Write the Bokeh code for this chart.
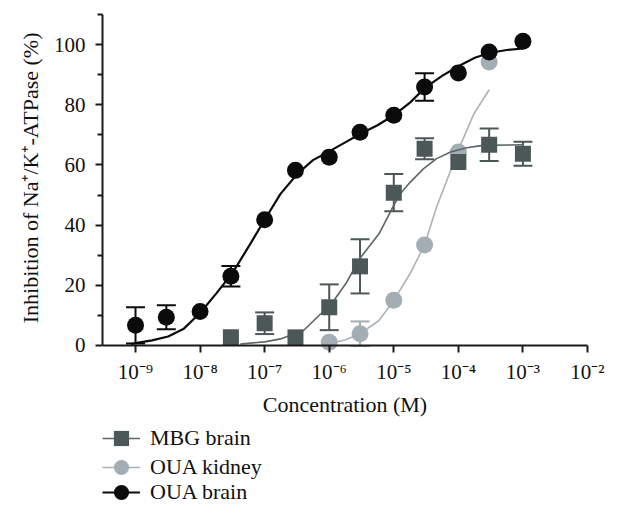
from bokeh.plotting import figure
from bokeh.models import (ColumnDataSource, Whisker, TeeHead, FixedTicker,
                          Legend, LegendItem, Title)
from bokeh.embed import file_html
from bokeh.resources import INLINE

# ---- measured points ----
brain_conc = [1e-9, 3e-9, 1e-8, 3e-8, 1e-7, 3e-7, 1e-6, 3e-6, 1e-5, 3e-5, 1e-4, 3e-4, 1e-3]
brain_val = [6.7, 9.4, 11.3, 23.0, 41.8, 58.2, 62.6, 70.9, 76.5, 85.9, 90.6, 97.5, 101.1]
brain_err_conc = [1e-9, 3e-9, 3e-8, 3e-5]
brain_err_val = [6.7, 9.4, 23.0, 85.9]
brain_err = [6.0, 4.0, 3.4, 4.6]

mbg_conc = [3e-8, 1e-7, 3e-7, 1e-6, 3e-6, 1e-5, 3e-5, 1e-4, 3e-4, 1e-3]
mbg_val = [2.7, 7.4, 2.7, 12.7, 26.3, 50.8, 65.4, 61.0, 66.7, 63.7]
mbg_err_conc = [1e-7, 1e-6, 3e-6, 1e-5, 3e-5, 3e-4, 1e-3]
mbg_err_val = [7.4, 12.7, 26.3, 50.8, 65.4, 66.7, 63.7]
mbg_err = [3.6, 7.6, 9.0, 6.2, 3.5, 5.4, 4.0]

kid_conc = [1e-6, 3e-6, 1e-5, 3e-5, 1e-4, 3e-4]
kid_val = [1.1, 3.9, 15.0, 33.4, 64.3, 94.2]
kid_err_conc = [3e-6]
kid_err_val = [3.9]
kid_err = [4.1]

# ---- fitted curves ----
brain_fit_conc = [8.5e-10, 1.0e-9, 1.8e-9, 3.2e-9, 5.6e-9, 1.0e-8, 1.8e-8, 3.2e-8,
                  5.7e-8, 1.0e-7, 1.76e-7, 3.2e-7, 5.6e-7, 1.0e-6, 1.8e-6, 3.0e-6,
                  5.6e-6, 1.0e-5, 1.8e-5, 3.0e-5, 5.6e-5, 1.0e-4, 1.8e-4,
                  3.0e-4, 5.6e-4, 1.0e-3]
brain_fit_val = [0.5, 0.8, 1.7, 3.0, 5.6, 10.8, 17.4, 24.2,
                 33.0, 41.8, 50.4, 57.0, 61.6, 64.5, 67.6, 70.3,
                 73.2, 76.5, 80.8, 85.5, 89.6, 92.8, 95.6,
                 97.2, 98.2, 98.7]

mbg_fit_conc = [4.2e-8, 1.0e-7, 1.76e-7, 4.0e-7, 7.2e-7, 1.0e-6, 1.8e-6, 3.0e-6,
                5.9e-6, 1.0e-5, 1.26e-5, 1.8e-5, 2.9e-5, 4.6e-5, 7.6e-5, 1.35e-4,
                2.4e-4, 1.0e-3]
mbg_fit_val = [0.5, 1.2, 2.2, 5.0, 10.3, 12.8, 20.5, 29.0,
               37.1, 46.6, 50.4, 54.3, 58.8, 62.1, 64.3, 65.7,
               66.5, 66.7]

kid_fit_conc = [1.0e-6, 1.8e-6, 3.0e-6, 5.9e-6, 1.0e-5, 1.8e-5, 3.0e-5, 4.6e-5,
                7.1e-5, 1.0e-4, 1.74e-4, 3.0e-4]
kid_fit_val = [0.6, 1.9, 3.9, 8.3, 15.0, 24.0, 33.5, 46.0,
               56.5, 65.0, 77.0, 85.0]

x_tick_values = [1e-9, 1e-8, 1e-7, 1e-6, 1e-5, 1e-4, 1e-3, 1e-2]
x_tick_labels = ["10⁻⁹", "10⁻⁸", "10⁻⁷", "10⁻⁶", "10⁻⁵", "10⁻⁴", "10⁻³", "10⁻²"]
x_axis_span = (3.08e-10, 1e-2)
y_tick_values = [0, 20, 40, 60, 80, 100]
y_minor_values = [10, 30, 50, 70, 90, 110]
y_axis_span = (0, 110)

x_title = "Concentration (M)"
y_title = "Inhibition of Na⁺/K⁺-ATPase (%)"
series_names = ["MBG brain", "OUA kidney", "OUA brain"]

FONT = "Liberation Serif"
C_BRAIN = "#0b0b0b"
C_MBG = "#4b5857"
C_MBG_LINE = "#5b6564"
C_KID = "#a2aeb4"
C_KID_LINE = "#a9b3b8"

# frame spans down/right so the legend and last tick label are not clipped
p = figure(width=612, height=512, x_axis_type="log",
           x_range=(3.08e-10, 2.44e-2), y_range=(-55.5, 110),
           output_backend="svg", toolbar_location=None,
           min_border_left=102, min_border_right=0,
           min_border_top=14, min_border_bottom=0)
p.xgrid.grid_line_color = None
p.ygrid.grid_line_color = None
p.outline_line_color = None

for ax in (p.xaxis[0], p.yaxis[0]):
    ax.axis_line_width = 2
    ax.axis_line_color = "#1a1a1a"
    ax.major_tick_line_width = 2
    ax.minor_tick_line_width = 2
    ax.major_tick_line_color = "#1a1a1a"
    ax.minor_tick_line_color = "#1a1a1a"
    ax.major_tick_in = 0
    ax.major_tick_out = 7
    ax.minor_tick_in = 0
    ax.minor_tick_out = 5
    ax.major_label_text_font = FONT
    ax.major_label_text_font_size = "21px"
    ax.major_label_text_color = "#111111"
    ax.axis_label_text_font = FONT
    ax.axis_label_text_font_size = "22px"
    ax.axis_label_text_font_style = "normal"
    ax.axis_label_text_color = "#111111"

p.xaxis.ticker = FixedTicker(ticks=x_tick_values, minor_ticks=[])
p.xaxis.major_label_overrides = dict(zip(x_tick_values, x_tick_labels))
p.xaxis.axis_label = x_title
p.xaxis.major_label_standoff = 8
p.xaxis.axis_label_standoff = 4
p.xaxis.fixed_location = 0
p.xaxis.bounds = x_axis_span

p.yaxis.ticker = FixedTicker(ticks=y_tick_values, minor_ticks=y_minor_values)
p.yaxis.bounds = y_axis_span
p.yaxis.major_label_standoff = 10

# y title as a side title so it is centred on the 0-110 span, not the whole frame
yt = Title(text=y_title, align="right", offset=18, standoff=15,
           text_font=FONT, text_font_size="22px", text_font_style="normal",
           text_color="#111111")
p.add_layout(yt, "left")


def add_series(conc, val, econc, evalue, err, fconc, fval, color, lcolor, lw, marker):
    ls = p.line(fconc, fval, line_color=lcolor, line_width=lw)
    src = ColumnDataSource(dict(x=econc, lo=[v - e for v, e in zip(evalue, err)],
                                hi=[v + e for v, e in zip(evalue, err)]))
    w = Whisker(source=src, base="x", lower="lo", upper="hi", dimension="height",
                line_color=color, line_width=2,
                upper_head=TeeHead(size=19, line_color=color, line_width=2),
                lower_head=TeeHead(size=19, line_color=color, line_width=2))
    p.add_layout(w)
    sr = p.scatter(conc, val, marker=marker, size=17 if marker == "circle" else 16,
                   fill_color=color, line_color=color, line_width=0)
    return ls, sr


kid_l, kid_s = add_series(kid_conc, kid_val, kid_err_conc, kid_err_val, kid_err,
                          kid_fit_conc, kid_fit_val, C_KID, C_KID_LINE, 1.6, "circle")
mbg_l, mbg_s = add_series(mbg_conc, mbg_val, mbg_err_conc, mbg_err_val, mbg_err,
                          mbg_fit_conc, mbg_fit_val, C_MBG, C_MBG_LINE, 1.6, "square")
br_l, br_s = add_series(brain_conc, brain_val, brain_err_conc, brain_err_val, brain_err,
                        brain_fit_conc, brain_fit_val, C_BRAIN, C_BRAIN, 2.2, "circle")

# one small legend per entry, stacked below the x-axis title
legend_rows = [(series_names[0], [mbg_l, mbg_s], 54),
               (series_names[1], [kid_l, kid_s], 25),
               (series_names[2], [br_l, br_s], 0)]
for name, rends, offset in legend_rows:
    lg = Legend(items=[LegendItem(label=name, renderers=rends)],
                location=(0, offset), orientation="vertical")
    lg.border_line_color = None
    lg.background_fill_alpha = 0
    lg.padding = 0
    lg.margin = 0
    lg.glyph_width = 38
    lg.glyph_height = 40
    lg.label_height = 20
    lg.spacing = 0
    lg.label_standoff = 10
    lg.label_text_font = FONT
    lg.label_text_font_size = "22px"
    lg.label_text_color = "#111111"
    p.add_layout(lg)

open("out.html", "w").write(file_html(p, INLINE))
